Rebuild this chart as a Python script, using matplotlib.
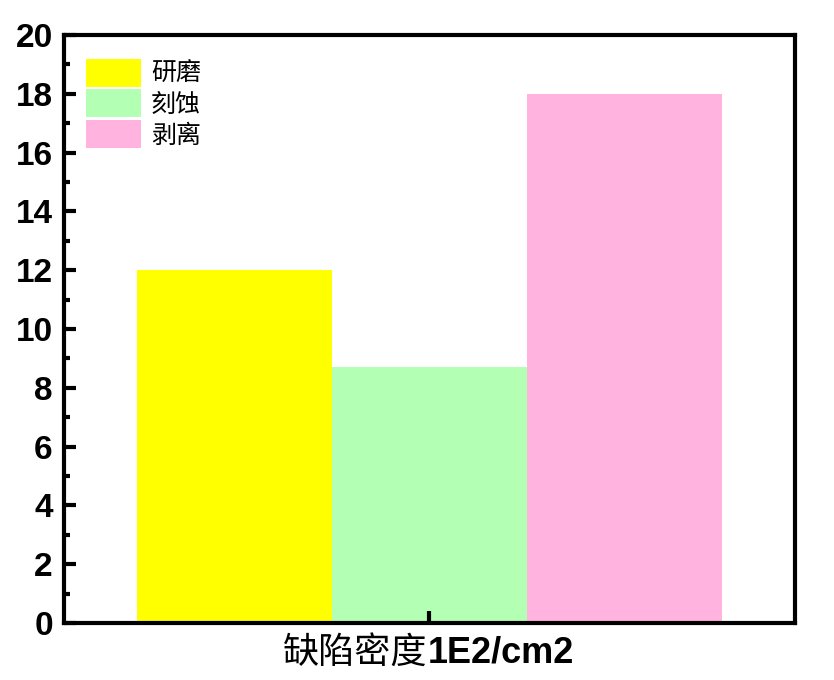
import matplotlib.pyplot as plt
from matplotlib.ticker import MultipleLocator

# 数据
categories = ["研磨", "刻蚀", "剥离"]
values = [12, 8.7, 18]
colors = ["#FFFF00", "#B3FFB3", "#FFB3DE"]
positions = [-1, 0, 1]
xlabel_cn = "缺陷密度"
xlabel_en = "1E2/cm2"

cjk = ["Noto Sans CJK SC", "DejaVu Sans"]
latin = ["Liberation Sans", "DejaVu Sans"]

fig = plt.figure(figsize=(8.34, 6.8), dpi=100)
ax = fig.add_axes([0.0767, 0.0838, 0.8765, 0.8647])

for p, v, c, lab in zip(positions, values, colors, categories):
    ax.bar(p, v, width=1, color=c, label=lab)

ax.set_xlim(-1.874, 1.874)
ax.set_ylim(0, 20)
ax.set_xticks([0])
ax.set_xticklabels([""])
ax.yaxis.set_major_locator(MultipleLocator(2))
ax.yaxis.set_minor_locator(MultipleLocator(1))

ax.tick_params(axis="both", which="major", direction="in", width=3, length=8.6, pad=8, labelsize=24)
ax.tick_params(axis="y", which="minor", direction="in", width=3, length=4.3)
for lab in ax.get_yticklabels():
    lab.set_family(latin)
    lab.set_weight("bold")

for s in ax.spines.values():
    s.set_linewidth(3)

ax.legend(loc="upper left", bbox_to_anchor=(0.03, 0.96), frameon=False,
          borderpad=0, borderaxespad=0, handlelength=2.2, handleheight=1.35,
          handletextpad=0.4, labelspacing=0.1,
          prop={"family": cjk, "size": 18})

# x轴标题: 中文常规 + 英文粗体
t1 = ax.text(0.300, -0.068, xlabel_cn, transform=ax.transAxes, ha="left", va="baseline",
             family=cjk, fontsize=26)
ax.annotate(xlabel_en, xy=(1, 0), xycoords=t1, ha="left", va="bottom",
            family=latin, fontsize=26, fontweight="bold")

fig.savefig("out.png", dpi=100)
